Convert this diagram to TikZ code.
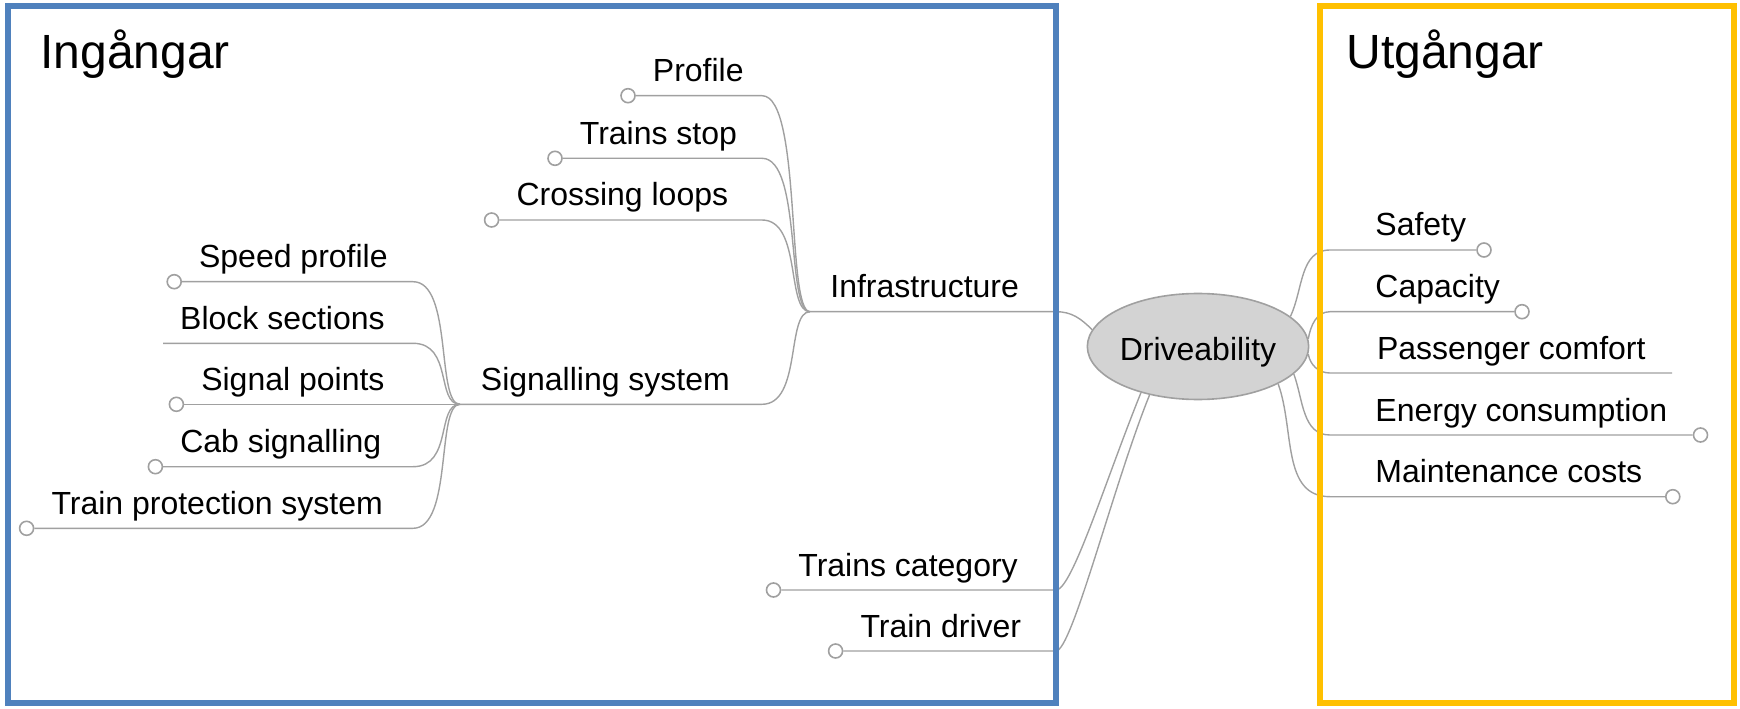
\documentclass[tikz,border=0pt]{standalone}
\usepackage{fontspec}
\setmainfont{Liberation Sans}
\usetikzlibrary{positioning,shapes.geometric,calc}
\definecolor{inblue}{RGB}{79,129,189}
\definecolor{outgold}{RGB}{255,192,0}
\definecolor{twiggrey}{RGB}{160,160,160}
\definecolor{hubgrey}{RGB}{211,211,211}

\begin{document}
\begin{tikzpicture}[
  x=0.5pt, y=0.5pt,
  frame/.style={line width=3pt},
  title/.style={anchor=base west, inner sep=0pt, font=\fontsize{24}{29}\selectfont},
  lbl/.style={anchor=base west, inner sep=0pt, font=\fontsize{16}{19}\selectfont},
  dot/.style={circle, draw=twiggrey, fill=white, line width=0.8pt,
    inner sep=0pt, minimum size=7pt},
  hub/.style={ellipse, draw=twiggrey, fill=hubgrey, line width=0.8pt,
    minimum width=104.5pt, minimum height=53pt, inner sep=0pt,
    text height=13.5pt, text depth=0pt,
    font=\fontsize{16}{19}\selectfont},
  twig/.style={draw=twiggrey, line width=0.7pt},
  twigcurve/.style={out=0, in=180, out distance=20pt, in distance=12pt}
]
  \useasboundingbox (0,0) rectangle (1740,708);

  % Centre
  \node[hub] (drive) at (1198,361.5) {Driveability};

  % Junctions and bend columns
  \coordinate (infraj) at (810,396.3);
  \coordinate (sigj) at (460,303.7);
  \coordinate (ibend) at (762,0);
  \coordinate (sbend) at (413,0);
  \coordinate (lbend) at (1056,0);
  \coordinate (rbend) at (1330,0);

  % Infrastructure branch
  \node[lbl] (infra) at (830,410.3) {Infrastructure};
  \draw[twig] (infraj) -- (lbend |- infraj) to[out=0, in=135] (drive.171);
  \foreach \n/\x/\y/\t in {profile/628/612.3/Profile, stop/555/549.7/Trains stop,
      crossing/491.6/488/Crossing loops} {
    \node[dot] (dot\n) at (\x,\y) {};
    \node[lbl] (\n) at (\x+24.5,\y+14) {\t};
    \draw[twig] (dot\n) -- (ibend |- dot\n) to[twigcurve] (infraj);
  }

  % Signalling branch
  \node[lbl] (signalling) at (480.5,317.7) {Signalling system};
  \draw[twig] (sigj) -- (ibend |- sigj) to[twigcurve] (infraj);
  \foreach \n/\x/\y/\t in {speed/174.2/426.3/Speed profile, points/176.4/303.7/Signal points,
      cab/155.4/241.3/Cab signalling, protect/26.6/179.7/Train protection system} {
    \node[dot] (dot\n) at (\x,\y) {};
    \node[lbl] (\n) at (\x+24.5,\y+14) {\t};
    \draw[twig] (dot\n) -- (sbend |- dot\n) to[twigcurve] (sigj);
  }
  \coordinate (blockend) at (163,364.7);
  \node[lbl] (block) at (179.8,378.7) {Block sections};
  \draw[twig] (blockend) -- (sbend |- blockend) to[twigcurve] (sigj);

  % Trains and drivers
  \foreach \n/\x/\y/\a/\t in {category/773.5/118/219/Trains category,
      driver/835.6/57/225/Train driver} {
    \node[dot] (dot\n) at (\x,\y) {};
    \node[lbl] (\n) at (\x+24.5,\y+14) {\t};
    \draw[twig] (dot\n) -- (lbend |- dot\n)
      to[out=0, in=-112, out distance=8pt, in distance=48pt] (drive.\a);
  }

  % Outputs
  \foreach \n/\y/\x/\a/\o/\t in {safety/458/1484/18/65/Safety,
      capacity/396.3/1522/4/80/Capacity,
      energy/273/1700.5/344/-70/Energy consumption,
      maint/211.3/1672.8/335/-70/Maintenance costs} {
    \node[dot] (dot\n) at (\x,\y) {};
    \node[lbl] (\n) at (1375,\y+14) {\t};
    \draw[twig] (drive.\a) to[out=\o, in=180] (rbend |- dot\n) -- (dot\n);
  }
  \coordinate (comfortend) at (1672,335);
  \node[lbl] (comfort) at (1376.6,349) {Passenger comfort};
  \draw[twig] (drive.356) to[out=-80, in=180] (rbend |- comfortend) -- (comfortend);

  % Frames
  \draw[frame, inblue] (8,702) rectangle (1056,5);
  \draw[frame, outgold] (1320,702) rectangle (1734,5);
  \node[title] (inputs) at (40,639) {Ingångar};
  \node[title] (outputs) at (1346,639) {Utgångar};
\end{tikzpicture}
\end{document}
